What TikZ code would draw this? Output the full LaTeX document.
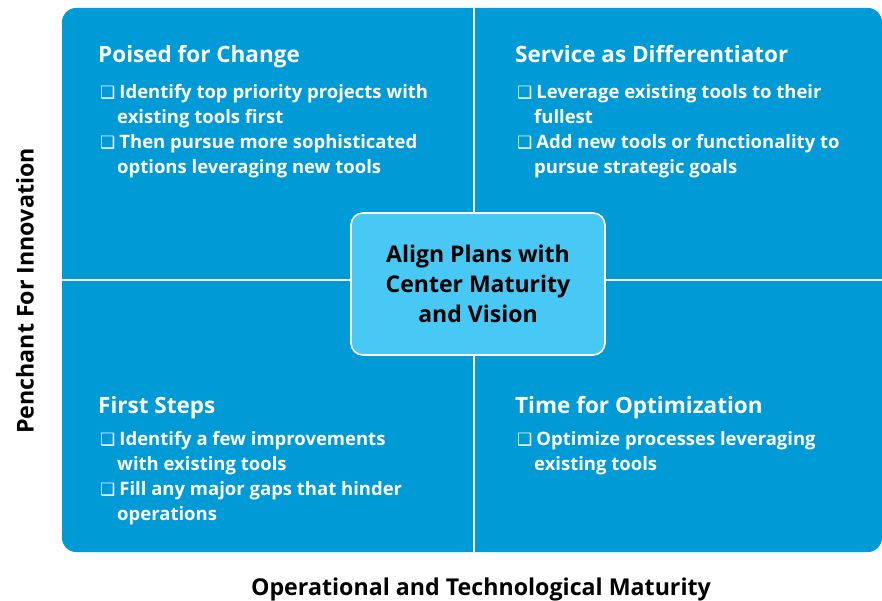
\documentclass[tikz,border=0pt]{standalone}
\usepackage{xcolor}
\usepackage{tikz}
\usepackage{fontspec}
\setmainfont{Open Sans}
\newfontfamily\symfont{DejaVu Sans}
\usetikzlibrary{positioning,calc}

\definecolor{quadblue}{HTML}{009AD7}
\definecolor{centerblue}{HTML}{48C8F5}

\newcommand{\chk}{{\symfont\fontsize{17}{17}\selectfont ❑}\hspace{4pt}}
\newcommand{\cont}{\hspace*{17pt}}

\tikzset{
  quadhead/.style={anchor=base west, inner sep=0pt, text=white,
    font=\bfseries\fontsize{22.5}{27}\selectfont},
  quadlist/.style={anchor=north west, inner sep=0pt, text=white, align=left,
    font=\bfseries\fontsize{18.5}{25}\selectfont},
  centerbox/.style={draw=white, line width=1.6pt, fill=centerblue,
    rounded corners=12pt, minimum width=254pt, minimum height=142pt,
    align=center, font=\bfseries\fontsize{23}{30}\selectfont},
  axislabel/.style={font=\bfseries\fontsize{23.2}{25}\selectfont}
}

\begin{document}
\begin{tikzpicture}[x=1pt, y=-1pt]
   \useasboundingbox (0,0) rectangle (882,601);

   % Quadrant block
   \fill[quadblue, rounded corners=14pt] (62,8) rectangle (882,552);
   \coordinate (midtop) at (474,8);
   \coordinate (midbot) at (474,552);
   \coordinate (midleft) at (62,280);
   \coordinate (midright) at (882,280);
   \draw[white, line width=1.6pt] (midtop) -- (midbot);
   \draw[white, line width=1.6pt] (midleft) -- (midright);

   % Poised for Change
   \node[quadhead] (tlhead) at (98,63) {Poised for Change};
   \node[quadlist] (tllist) at (100,84.5) {\chk Identify top priority projects with\\
      \cont existing tools first\\
      \chk Then pursue more sophisticated\\
      \cont options leveraging new tools};

   % Service as Differentiator
   \node[quadhead] (trhead) at (515,63) {Service as Differentiator};
   \node[quadlist] (trlist) at (517,84.5) {\chk Leverage existing tools to their\\
      \cont fullest\\
      \chk Add new tools or functionality to\\
      \cont pursue strategic goals};

   % First Steps
   \node[quadhead] (blhead) at (98,413) {First Steps};
   \node[quadlist] (bllist) at (100,431.5) {\chk Identify a few improvements\\
      \cont with existing tools\\
      \chk Fill any major gaps that hinder\\
      \cont operations};

   % Time for Optimization
   \node[quadhead] (brhead) at (515,413) {Time for Optimization};
   \node[quadlist] (brlist) at (517,431.5) {\chk Optimize processes leveraging\\
      \cont existing tools};

   % Center
   \node[centerbox] (center) at (478,284) {Align Plans with\\Center Maturity\\and Vision};

   % Axes
   \node[axislabel] (xlabel) at (481,589) {Operational and Technological Maturity};
   \node[axislabel, rotate=90] (ylabel) at (25,291) {Penchant For Innovation};
\end{tikzpicture}
\end{document}
